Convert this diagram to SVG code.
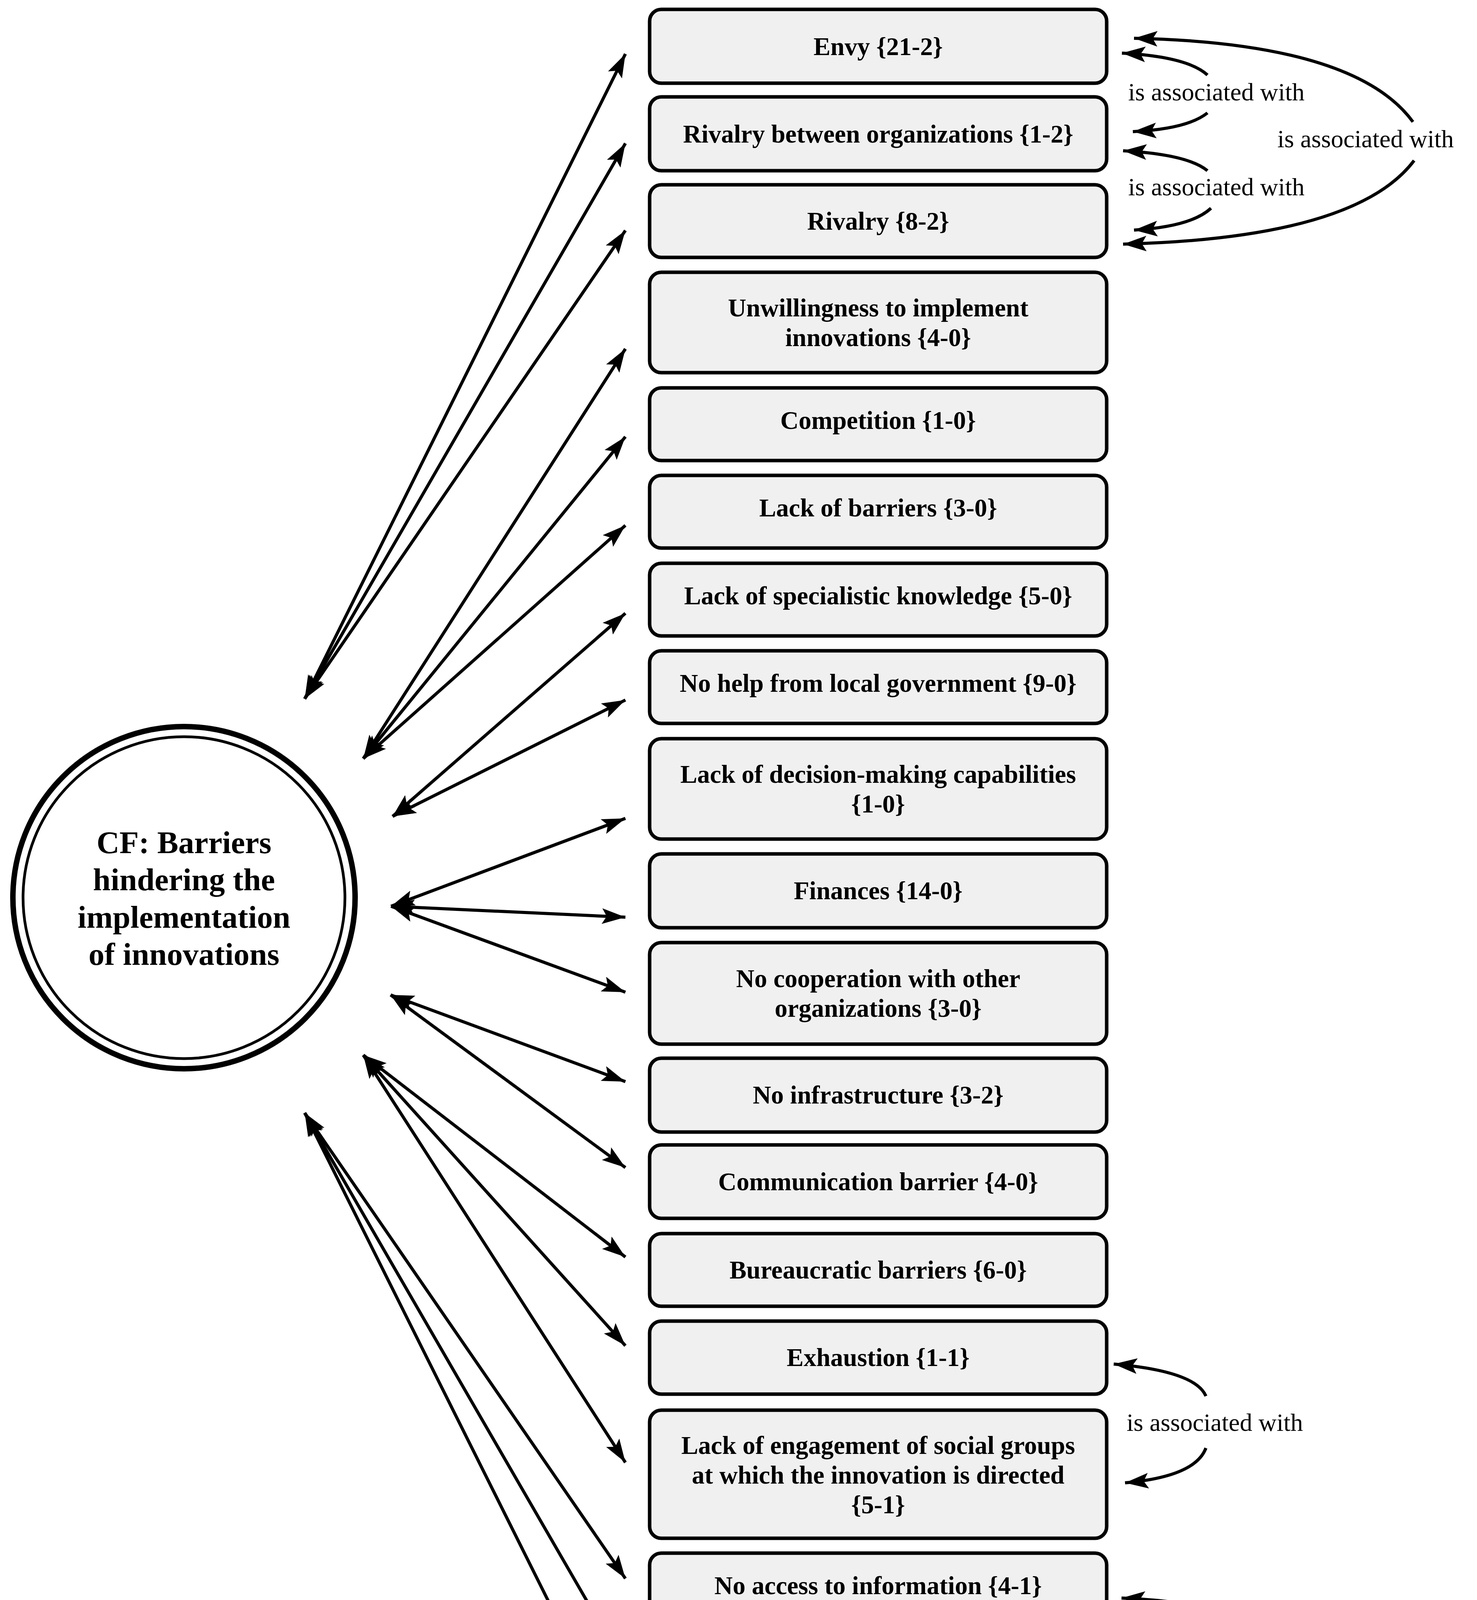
<svg xmlns="http://www.w3.org/2000/svg" width="3781" height="4670" viewBox="0 0 3781 4670">
<style>
.box{fill:#f0f0f0;stroke:#000;stroke-width:9}
.t{font-family:"Liberation Serif",serif;font-weight:bold;font-size:65px;text-anchor:middle;fill:#000}
.ct{font-family:"Liberation Serif",serif;font-weight:bold;font-size:81px;text-anchor:middle;fill:#000}
.lbl{font-family:"Liberation Serif",serif;font-size:64px;fill:#000}
.c{fill:none;stroke:#000;stroke-width:8}
.d{marker-start:url(#ah);marker-end:url(#ah)}
.s{marker-end:url(#ah)}
</style>
<defs>
<marker id="ah" markerUnits="userSpaceOnUse" markerWidth="62" markerHeight="42" refX="60" refY="20" orient="auto-start-reverse">
<path d="M0,0 L60,20 L0,40 L12,20 z" fill="#000"/>
</marker>
</defs>
<rect width="3781" height="4670" fill="#fff"/>
<g id="center">
<circle cx="471" cy="2298" r="438" fill="none" stroke="#000" stroke-width="14"/>
<circle cx="471" cy="2298" r="412" fill="none" stroke="#000" stroke-width="7"/>
<text class="ct" x="471" y="2184">CF: Barriers</text>
<text class="ct" x="471" y="2279">hindering the</text>
<text class="ct" x="471" y="2375">implementation</text>
<text class="ct" x="471" y="2470">of innovations</text>
</g>
<g id="n1"><rect class="box" x="1663" y="24" width="1170" height="189" rx="30"/><text class="t" x="2248" y="141">Envy {21-2}</text></g>
<g id="n2"><rect class="box" x="1663" y="248" width="1170" height="189" rx="30"/><text class="t" x="2248" y="365">Rivalry between organizations {1-2}</text></g>
<g id="n3"><rect class="box" x="1663" y="473" width="1170" height="186" rx="30"/><text class="t" x="2248" y="588">Rivalry {8-2}</text></g>
<g id="n4"><rect class="box" x="1663" y="697" width="1170" height="257" rx="30"/><text class="t" x="2248" y="810">Unwillingness to implement</text><text class="t" x="2248" y="886">innovations {4-0}</text></g>
<g id="n5"><rect class="box" x="1663" y="993" width="1170" height="186" rx="30"/><text class="t" x="2248" y="1098">Competition {1-0}</text></g>
<g id="n6"><rect class="box" x="1663" y="1217" width="1170" height="186" rx="30"/><text class="t" x="2248" y="1322">Lack of barriers {3-0}</text></g>
<g id="n7"><rect class="box" x="1663" y="1442" width="1170" height="186" rx="30"/><text class="t" x="2248" y="1547">Lack of specialistic knowledge {5-0}</text></g>
<g id="n8"><rect class="box" x="1663" y="1666" width="1170" height="186" rx="30"/><text class="t" x="2248" y="1771">No help from local government {9-0}</text></g>
<g id="n9"><rect class="box" x="1663" y="1891" width="1170" height="257" rx="30"/><text class="t" x="2248" y="2004">Lack of decision-making capabilities</text><text class="t" x="2248" y="2080">{1-0}</text></g>
<g id="n10"><rect class="box" x="1663" y="2186" width="1170" height="189" rx="30"/><text class="t" x="2248" y="2302">Finances {14-0}</text></g>
<g id="n11"><rect class="box" x="1663" y="2413" width="1170" height="260" rx="30"/><text class="t" x="2248" y="2527">No cooperation with other</text><text class="t" x="2248" y="2603">organizations {3-0}</text></g>
<g id="n12"><rect class="box" x="1663" y="2709" width="1170" height="189" rx="30"/><text class="t" x="2248" y="2825">No infrastructure {3-2}</text></g>
<g id="n13"><rect class="box" x="1663" y="2931" width="1170" height="188" rx="30"/><text class="t" x="2248" y="3047">Communication barrier {4-0}</text></g>
<g id="n14"><rect class="box" x="1663" y="3158" width="1170" height="186" rx="30"/><text class="t" x="2248" y="3273">Bureaucratic barriers {6-0}</text></g>
<g id="n15"><rect class="box" x="1663" y="3382" width="1170" height="187" rx="30"/><text class="t" x="2248" y="3497">Exhaustion {1-1}</text></g>
<g id="n16"><rect class="box" x="1663" y="3610" width="1170" height="328" rx="30"/><text class="t" x="2248" y="3722">Lack of engagement of social groups</text><text class="t" x="2248" y="3798">at which the innovation is directed</text><text class="t" x="2248" y="3874">{5-1}</text></g>
<g id="n17"><rect class="box" x="1663" y="3976" width="1170" height="186" rx="30"/><text class="t" x="2248" y="4081">No access to information {4-1}</text></g>
<g id="n18"><rect class="box" x="1663" y="4201" width="1170" height="186" rx="30"/><text class="t" x="2248" y="4306">Lack of experience {3-1}</text></g>
<g id="n19"><rect class="box" x="1663" y="4425" width="1170" height="186" rx="30"/><text class="t" x="2248" y="4530">Barriers tied to politics {10-0}</text></g>
<g id="connectors">
<line class="c d" x1="780" y1="1789" x2="1601" y2="138"/>
<line class="c d" x1="780" y1="1789" x2="1601" y2="367"/>
<line class="c d" x1="780" y1="1789" x2="1601" y2="590"/>
<line class="c d" x1="930" y1="1942" x2="1601" y2="893"/>
<line class="c d" x1="930" y1="1942" x2="1601" y2="1118"/>
<line class="c d" x1="930" y1="1942" x2="1601" y2="1345"/>
<line class="c d" x1="1005" y1="2090" x2="1601" y2="1570"/>
<line class="c d" x1="1005" y1="2090" x2="1601" y2="1792"/>
<line class="c d" x1="1001" y1="2320" x2="1601" y2="2095"/>
<line class="c d" x1="1001" y1="2320" x2="1601" y2="2348"/>
<line class="c d" x1="1001" y1="2320" x2="1601" y2="2540"/>
<line class="c d" x1="1000" y1="2547" x2="1601" y2="2769"/>
<line class="c d" x1="1000" y1="2547" x2="1601" y2="2989"/>
<line class="c d" x1="930" y1="2701" x2="1601" y2="3218"/>
<line class="c d" x1="930" y1="2701" x2="1601" y2="3445"/>
<line class="c d" x1="930" y1="2701" x2="1601" y2="3744"/>
<line class="c d" x1="780" y1="2849" x2="1601" y2="4041"/>
<line class="c d" x1="780" y1="2849" x2="1601" y2="4269"/>
<line class="c d" x1="780" y1="2849" x2="1601" y2="4494"/>
<path class="c s" d="M3091,192 Q3040,145 2872,136"/>
<path class="c s" d="M3091,289 Q3040,330 2900,337"/>
<path class="c s" d="M3091,437 Q3040,395 2875,386"/>
<path class="c s" d="M3100,533 Q3050,580 2903,589"/>
<path class="c s" d="M3617,312 Q3470,110 2903,98"/>
<path class="c s" d="M3620,411 Q3470,610 2875,625"/>
<path class="c s" d="M3087,3574 Q3060,3510 2851,3492"/>
<path class="c s" d="M3087,3707 Q3060,3780 2880,3796"/>
<path class="c s" d="M3096,4130 Q3070,4100 2871,4091"/>
<path class="c s" d="M3096,4269 Q3070,4305 2895,4313"/>
<text class="lbl" x="2888" y="257">is associated with</text>
<text class="lbl" x="2888" y="500">is associated with</text>
<text class="lbl" x="3270" y="377">is associated with</text>
<text class="lbl" x="2884" y="3663">is associated with</text>
<text class="lbl" x="2893" y="4224">is associated with</text>
</g>
</svg>
